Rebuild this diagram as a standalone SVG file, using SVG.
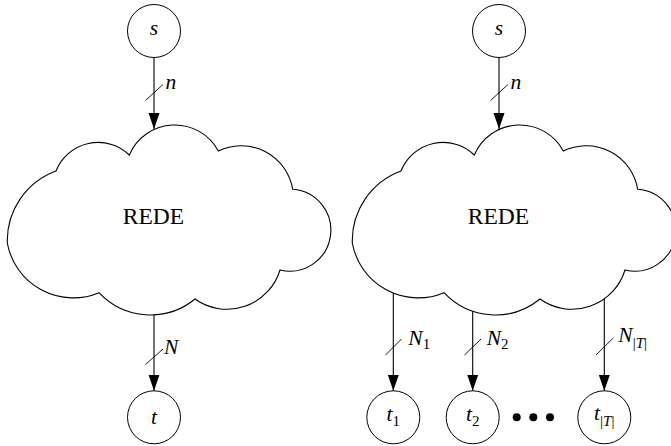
<svg xmlns="http://www.w3.org/2000/svg" xmlns:xlink="http://www.w3.org/1999/xlink" width="671" height="446" viewBox="0 0 671 446">
  <style>
    .node { fill: #ffffff; stroke: #000000; stroke-width: 1; }
    .cloud { fill: #ffffff; stroke: #000000; stroke-width: 1.1; stroke-linejoin: miter; }
    .edge { fill: none; stroke: #000000; stroke-width: 1.1; }
    .slash { fill: none; stroke: #000000; stroke-width: 0.9; }
    .math { font-family: "Liberation Serif", "DejaVu Serif", serif; font-style: italic; font-size: 21.5px; fill: #000000; }
    .up { font-style: normal; }
    .sub { font-size: 15px; }
    .title { font-family: "Liberation Serif", "DejaVu Serif", serif; font-size: 23.5px; fill: #000000; }
  </style>
  <defs>
    <marker id="arrow" markerUnits="userSpaceOnUse" markerWidth="17" markerHeight="12" refX="16" refY="6" orient="auto">
      <path d="M0,0.5 L16,6 L0,11.5 Z" fill="#000000"/>
    </marker>
    <!-- cloud outline built from circular puffs -->
    <path id="cloudShape" d="M129.3,155
      A49.4,49.4 0 0 1 218.3,151
      A52.2,52.2 0 0 1 292.7,189.3
      A41,41 0 1 1 280,270
      A55.3,55.3 0 0 1 195,299
      A70.4,70.4 0 0 1 99,292.7
      A66.9,66.9 0 0 1 7.3,243
      A74.4,74.4 0 0 1 56,171
      A45.2,45.2 0 0 1 129.3,155 Z"/>
  </defs>

  <!-- left network -->
  <g id="s-left">
    <circle class="node" cx="154" cy="31" r="26.5"/>
    <text class="math" x="154" y="35" text-anchor="middle">s</text>
  </g>
  <g id="rede-left">
    <use xlink:href="#cloudShape" class="cloud"/>
    <text class="title" x="153.5" y="223.5" text-anchor="middle">REDE</text>
  </g>
  <g id="t-left">
    <circle class="node" cx="154" cy="417.3" r="26.5"/>
    <text class="math" x="154" y="423.5" text-anchor="middle">t</text>
  </g>

  <!-- right network -->
  <g id="s-right">
    <circle class="node" cx="499" cy="31" r="26.5"/>
    <text class="math" x="499" y="35" text-anchor="middle">s</text>
  </g>
  <g id="rede-right">
    <use xlink:href="#cloudShape" class="cloud" transform="translate(345,0)"/>
    <text class="title" x="498.5" y="223.5" text-anchor="middle">REDE</text>
  </g>
  <g id="t1">
    <circle class="node" cx="393.3" cy="417.3" r="26.5"/>
    <text class="math" x="393.3" y="421" text-anchor="middle">t<tspan class="up sub" dy="5">1</tspan></text>
  </g>
  <g id="t2">
    <circle class="node" cx="472.7" cy="417.3" r="26.5"/>
    <text class="math" x="472.7" y="421" text-anchor="middle">t<tspan class="up sub" dy="5">2</tspan></text>
  </g>
  <g id="ellipsis">
    <circle cx="516.7" cy="417.3" r="4" fill="#000000"/>
    <circle cx="533.3" cy="417.3" r="4" fill="#000000"/>
    <circle cx="550" cy="417.3" r="4" fill="#000000"/>
  </g>
  <g id="tT">
    <circle class="node" cx="604.3" cy="417.3" r="26.5"/>
    <text class="math" x="604.3" y="420" text-anchor="middle">t<tspan class="up sub" dy="6">|</tspan><tspan class="sub">T</tspan><tspan class="up sub">|</tspan></text>
  </g>

  <!-- connectors with bundle slashes and labels -->
  <g id="connectors">
    <path class="edge" d="M154,57.5 V129.1" marker-end="url(#arrow)"/>
    <line class="slash" x1="145.5" y1="100.5" x2="163" y2="84.5"/>
    <text class="math" x="165.5" y="89.3">n</text>

    <path class="edge" d="M154,314.9 V390.8" marker-end="url(#arrow)"/>
    <line class="slash" x1="145.5" y1="364.5" x2="163" y2="349"/>
    <text class="math" x="164" y="354.3">N</text>

    <path class="edge" d="M499,57.5 V129.1" marker-end="url(#arrow)"/>
    <line class="slash" x1="490.5" y1="100.5" x2="508" y2="84.5"/>
    <text class="math" x="510.5" y="89.3">n</text>

    <path class="edge" d="M393.3,293.3 V390.8" marker-end="url(#arrow)"/>
    <line class="slash" x1="385.5" y1="355" x2="401.5" y2="339"/>
    <text class="math" x="408.3" y="345">N<tspan class="up sub" dy="4">1</tspan></text>

    <path class="edge" d="M472.7,311.2 V390.8" marker-end="url(#arrow)"/>
    <line class="slash" x1="464.5" y1="355" x2="481" y2="339"/>
    <text class="math" x="486.7" y="345">N<tspan class="up sub" dy="4">2</tspan></text>

    <path class="edge" d="M604.3,299 V390.8" marker-end="url(#arrow)"/>
    <line class="slash" x1="596" y1="355" x2="613.3" y2="338"/>
    <text class="math" x="618.3" y="341.7">N<tspan class="up sub" dy="6">|</tspan><tspan class="sub">T</tspan><tspan class="up sub">|</tspan></text>
  </g>
</svg>
